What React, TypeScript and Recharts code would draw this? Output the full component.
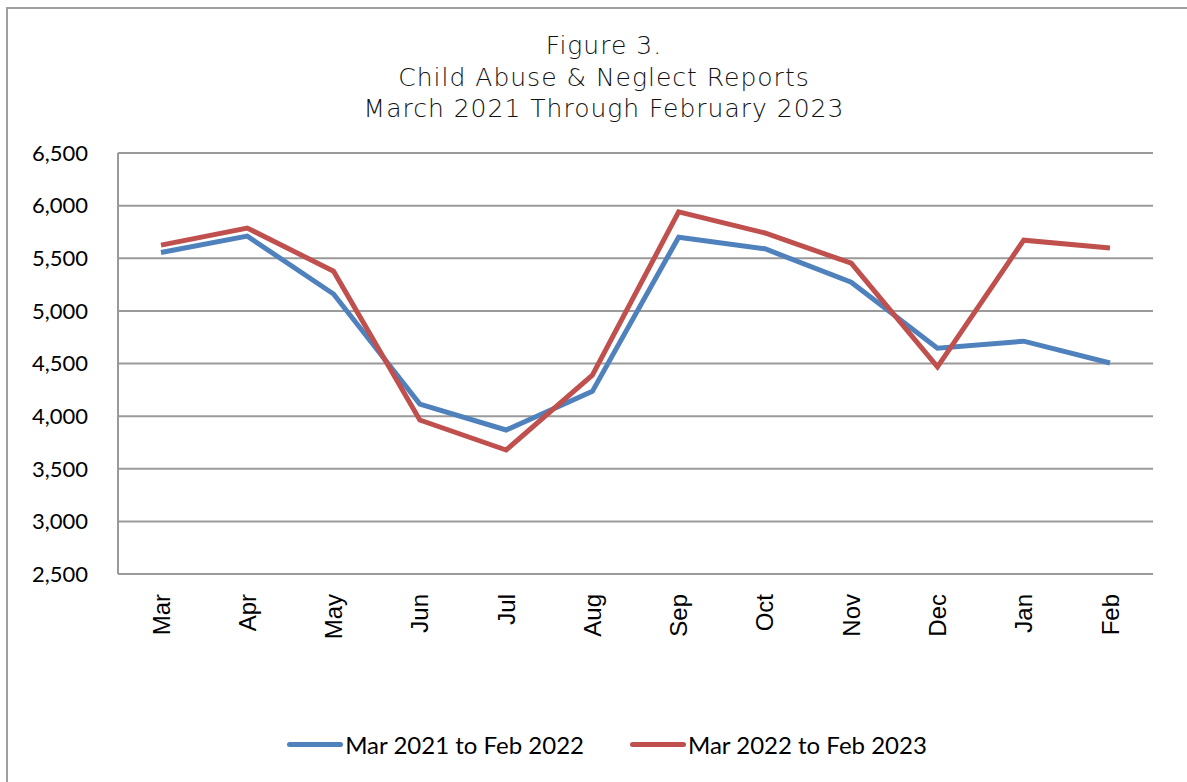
import React from "react"
import { LineChart, Line, XAxis, YAxis, CartesianGrid, Legend } from "recharts"

const months = ["Mar", "Apr", "May", "Jun", "Jul", "Aug", "Sep", "Oct", "Nov", "Dec", "Jan", "Feb"]
const reports2021 = [5555, 5710, 5160, 4115, 3868, 4235, 5700, 5590, 5272, 4645, 4712, 4505]
const reports2022 = [5625, 5787, 5377, 3963, 3678, 4390, 5940, 5740, 5453, 4468, 5672, 5597]
const yTicks = [2500, 3000, 3500, 4000, 4500, 5000, 5500, 6000, 6500]
const seriesNames = ["Mar 2021 to Feb 2022", "Mar 2022 to Feb 2023"]
const titleLines = ["Figure 3.", "Child Abuse & Neglect Reports", "March 2021 Through February 2023"]

const BLUE = "#4F81BD"
const RED = "#C0504D"
const GRID = "#9a9a9a"

const data = months.map((m, i) => ({ month: m, a: reports2021[i], b: reports2022[i] }))

const MonthTick = (props: any) => {
  const { x, y, payload } = props
  return (
    <text
      x={x}
      y={y}
      transform={`rotate(-90, ${x}, ${y})`}
      textAnchor="end"
      dominantBaseline="central"
      fontFamily="'Liberation Sans', Arial, sans-serif"
      fontSize={24}
      fill="#000"
    >
      {payload.value}
    </text>
  )
}

const LegendBox = () => (
  <div style={{ display: "flex", justifyContent: "center", alignItems: "center", gap: 46 }}>
    {seriesNames.map((name, i) => (
      <div key={name} style={{ display: "flex", alignItems: "center" }}>
        <div style={{ width: 56, height: 5, borderRadius: 3, background: i === 0 ? BLUE : RED }} />
        <span style={{ fontFamily: "Lato, 'Open Sans', sans-serif", fontSize: 24, color: "#000", marginLeft: 2 }}>
          {name}
        </span>
      </div>
    ))}
  </div>
)

export default function App() {
  return (
    <div style={{ position: "absolute", left: 0, top: 0, width: 1187, height: 782, background: "#fff", overflow: "hidden" }}>
      <div
        style={{
          position: "absolute",
          left: 6,
          top: 7,
          width: 1300,
          height: 900,
          borderLeft: "2.5px solid #a0a0a0",
          borderTop: "2.5px solid #a0a0a0",
        }}
      />
      <div
        style={{
          position: "absolute",
          left: 0,
          top: 30,
          width: 1208,
          textAlign: "center",
          fontFamily: "'DejaVu Sans', sans-serif",
          fontWeight: 300,
          fontSize: 25,
          lineHeight: "31.5px",
          letterSpacing: 1,
          color: "#111",
        }}
      >
        {titleLines.map((t) => (
          <div key={t}>{t}</div>
        ))}
      </div>
      <div style={{ position: "absolute", left: 0, top: 0 }}>
        <LineChart width={1187} height={782} data={data} margin={{ top: 153, right: 34, bottom: 0, left: 0 }}>
          <CartesianGrid vertical={false} stroke={GRID} strokeWidth={2} />
          <XAxis
            dataKey="month"
            padding={{ left: 43, right: 43 }}
            axisLine={{ stroke: GRID, strokeWidth: 2 }}
            tickLine={false}
            tick={<MonthTick />}
            tickMargin={14}
            interval={0}
            height={179}
          />
          <YAxis
            width={118}
            domain={[2500, 6500]}
            ticks={yTicks}
            tickFormatter={(v: number) => v.toLocaleString("en-US")}
            axisLine={{ stroke: GRID, strokeWidth: 2 }}
            tickLine={false}
            tickMargin={24}
            tick={{ fill: "#000", fontSize: 22, fontFamily: "Lato, 'Open Sans', sans-serif" }}
          />
          <Line dataKey="a" name={seriesNames[0]} stroke={BLUE} strokeWidth={5} dot={false} isAnimationActive={false} />
          <Line dataKey="b" name={seriesNames[1]} stroke={RED} strokeWidth={5} dot={false} isAnimationActive={false} />
          <Legend content={<LegendBox />} wrapperStyle={{ top: 730, left: 0, width: 1214 }} />
        </LineChart>
      </div>
    </div>
  )
}
